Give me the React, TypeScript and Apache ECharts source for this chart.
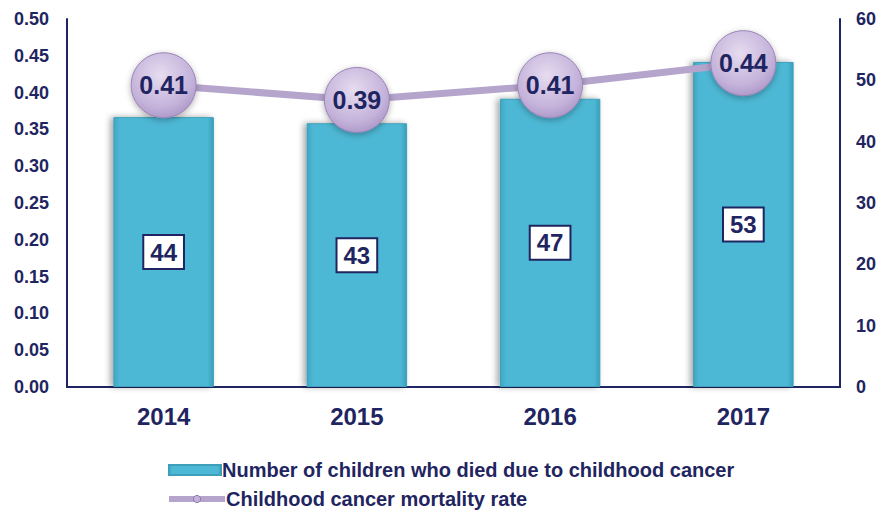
import React, { useEffect, useRef } from "react";
import * as echarts from "echarts";

const years = ["2014", "2015", "2016", "2017"];
const deaths = [44, 43, 47, 53];
const mortalityRate = [0.41, 0.39, 0.41, 0.44];
const leftTicks = { min: 0, max: 0.5, interval: 0.05 };
const rightTicks = { min: 0, max: 60, interval: 10 };

const NAVY = "#1f2560";
const BAR_NAME = "Number of children who died due to childhood cancer";
const LINE_NAME = "Childhood cancer mortality rate";

export default function App() {
  const ref = useRef<HTMLDivElement>(null);
  useEffect(() => {
    if (!ref.current) return;
    const chart = echarts.init(ref.current, undefined, { renderer: "svg" });
    const legendText = { color: NAVY, fontSize: 20, fontWeight: "bold", padding: [0, 0, 0, -4] };
    chart.setOption({
      animation: false,
      backgroundColor: "#ffffff",
      textStyle: { fontFamily: "Liberation Sans, Arial, sans-serif" },
      grid: { left: 67, right: 39, top: 19, bottom: 124 },
      legend: [
        {
          left: 163,
          top: 455,
          itemWidth: 52,
          itemHeight: 10,
          textStyle: legendText,
          data: [{ name: BAR_NAME, icon: "rect" }],
        },
        {
          left: 161,
          top: 484,
          itemWidth: 56,
          itemHeight: 9,
          textStyle: legendText,
          lineStyle: { width: 6, color: "#b5a4cc" },
          itemStyle: { color: "#c4b2da", borderColor: "#8f7aaa", borderWidth: 1 },
          data: [{ name: LINE_NAME }],
        },
      ],
      xAxis: {
        type: "category",
        data: years,
        axisLine: { lineStyle: { color: NAVY, width: 2 } },
        axisTick: { show: false },
        axisLabel: { color: NAVY, fontSize: 24, fontWeight: "bold", margin: 17 },
      },
      yAxis: [
        {
          type: "value",
          min: leftTicks.min,
          max: leftTicks.max,
          interval: leftTicks.interval,
          axisLine: { show: true, lineStyle: { color: NAVY, width: 2 } },
          axisTick: { show: false },
          splitLine: { show: false },
          axisLabel: {
            color: NAVY,
            fontSize: 18,
            fontWeight: "bold",
            margin: 18,
            formatter: (v: number) => v.toFixed(2),
          },
        },
        {
          type: "value",
          min: rightTicks.min,
          max: rightTicks.max,
          interval: rightTicks.interval,
          position: "right",
          axisLine: { show: true, lineStyle: { color: NAVY, width: 2 } },
          axisTick: { show: false },
          splitLine: { show: false },
          axisLabel: { color: NAVY, fontSize: 18, fontWeight: "bold", margin: 16 },
        },
      ],
      series: [
        {
          name: BAR_NAME,
          type: "bar",
          yAxisIndex: 1,
          data: deaths,
          barWidth: "52%",
          z: 2,
          itemStyle: {
            color: new echarts.graphic.LinearGradient(0, 0, 1, 0, [
              { offset: 0, color: "#3fa6c2" },
              { offset: 0.06, color: "#4db8d5" },
              { offset: 0.94, color: "#4db8d5" },
              { offset: 1, color: "#3a9fbb" },
            ]),
            borderColor: "#3d9fb9",
            borderWidth: 1,
            shadowColor: "rgba(0,0,0,0.35)",
            shadowBlur: 6,
            shadowOffsetX: -3,
          },
          label: {
            show: true,
            position: "inside",
            color: NAVY,
            fontSize: 24,
            fontWeight: "bold",
            backgroundColor: "#ffffff",
            borderColor: NAVY,
            borderWidth: 2,
            padding: [5, 6, 3, 6],
          },
        },
        {
          name: LINE_NAME,
          type: "line",
          yAxisIndex: 0,
          data: mortalityRate,
          z: 5,
          symbol: "circle",
          symbolSize: 65,
          lineStyle: { color: "#b5a4cc", width: 7 },
          itemStyle: {
            color: new echarts.graphic.RadialGradient(0.45, 0.35, 0.7, [
              { offset: 0, color: "#e6dcf0" },
              { offset: 0.7, color: "#c4b2da" },
              { offset: 1, color: "#a994c5" },
            ]),
            borderColor: "#9a84b6",
            borderWidth: 1,
            shadowColor: "rgba(0,0,0,0.3)",
            shadowBlur: 6,
            shadowOffsetY: 2,
          },
          label: {
            show: true,
            position: "inside",
            color: NAVY,
            fontSize: 25,
            fontWeight: "bold",
            formatter: (p: any) => p.value.toFixed(2),
          },
        },
      ],
    });
    return () => chart.dispose();
  }, []);
  return <div ref={ref} style={{ width: 879, height: 511, position: "absolute", left: 0, top: 0 }} />;
}
